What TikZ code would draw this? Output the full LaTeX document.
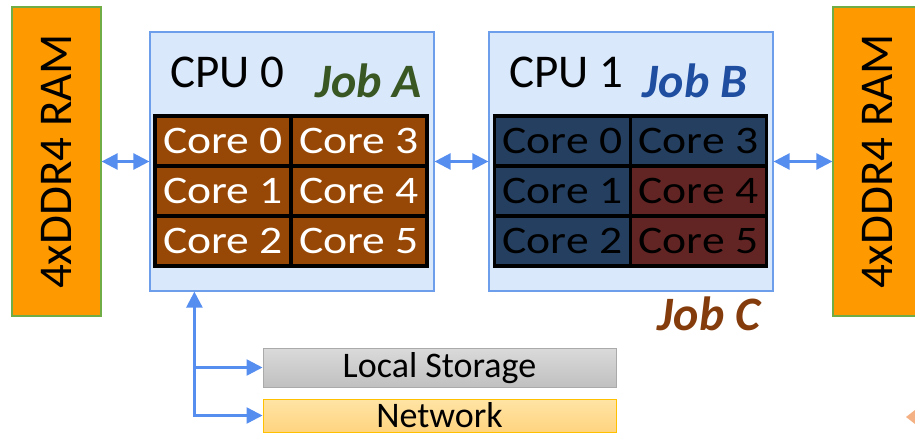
\documentclass[tikz,border=0pt]{standalone}
\usepackage{fontspec}
\setmainfont{Carlito}
\newfontfamily\corefont[FakeStretch=1.17]{Carlito}
\usepackage{tikz}
\usetikzlibrary{arrows.meta}
\definecolor{ramorange}{RGB}{255,153,0}
\definecolor{ramgreen}{RGB}{112,173,71}
\definecolor{cpufill}{RGB}{218,232,252}
\definecolor{cpuline}{RGB}{109,158,235}
\definecolor{corebrown}{RGB}{151,72,6}
\definecolor{coreblue}{RGB}{36,63,96}
\definecolor{corered}{RGB}{99,37,35}
\definecolor{joba}{RGB}{56,87,35}
\definecolor{jobb}{RGB}{31,78,160}
\definecolor{jobc}{RGB}{132,60,12}
\definecolor{linkblue}{RGB}{86,142,240}
\definecolor{bitorange}{RGB}{244,177,131}

\begin{document}
\begin{tikzpicture}[x=1pt,y=-1pt,
  ram/.style={draw=ramgreen,line width=1.2pt,fill=ramorange,minimum width=89,minimum height=309,inner sep=0pt,font=\fontsize{47}{50}\selectfont},
  cpu/.style={draw=cpuline,line width=1.2pt,fill=cpufill,minimum width=284,minimum height=259,inner sep=0pt},
  core/.style={draw=black,line width=3.5pt,minimum width=136,minimum height=50,inner sep=0pt,font=\corefont\fontsize{39}{40}\selectfont},
  title/.style={anchor=base,inner sep=0pt,font=\fontsize{47}{50}\selectfont},
  job/.style={anchor=base,inner sep=0pt,font=\fontsize{48}{50}\selectfont\bfseries\itshape},
  link/.style={draw=linkblue,line width=2.5pt},
  both/.style={link,{Triangle[length=16pt,width=16pt]}-{Triangle[length=16pt,width=16pt]}},
  single/.style={link,-{Triangle[length=16pt,width=16pt]}},
  dev/.style={line width=1pt,minimum width=353,inner sep=0pt,text depth=0pt,font=\fontsize{36}{40}\selectfont}]
\useasboundingbox (0,0) rectangle (915,434);
\clip (0,0) rectangle (915,434);

\draw (56.5,161.5) node[ram] (ramL) {\rotatebox{90}{4xDDR4 RAM}};
\draw (877.5,161.5) node[ram] (ramR) {\rotatebox{90}{4xDDR4 RAM}};

\draw (292,161.5) node[cpu] (cpu0) {};
\draw (631,161.5) node[cpu] (cpu1) {};
\draw (227,87) node[title] (t0) {CPU 0};
\draw (566,87) node[title] (t1) {CPU 1};
\draw (368.5,97) node[job,text=joba] (jA) {Job A};
\draw (695,97) node[job,text=jobb] (jB) {Job B};
\draw (709,330) node[job,text=jobc] (jC) {Job C};

\draw (223,141) node[core,fill=corebrown,text=white] (c00) {Core 0};
\draw (223,191) node[core,fill=corebrown,text=white] (c01) {Core 1};
\draw (223,241) node[core,fill=corebrown,text=white] (c02) {Core 2};
\draw (359,141) node[core,fill=corebrown,text=white] (c03) {Core 3};
\draw (359,191) node[core,fill=corebrown,text=white] (c04) {Core 4};
\draw (359,241) node[core,fill=corebrown,text=white] (c05) {Core 5};

\draw (562.5,141) node[core,fill=coreblue] (c10) {Core 0};
\draw (562.5,191) node[core,fill=coreblue] (c11) {Core 1};
\draw (562.5,241) node[core,fill=coreblue] (c12) {Core 2};
\draw (698.5,141) node[core,fill=coreblue] (c13) {Core 3};
\draw (698.5,191) node[core,fill=corered] (c14) {Core 4};
\draw (698.5,241) node[core,fill=corered] (c15) {Core 5};

\draw (439.5,367.5) node[dev,draw={rgb,255:red,170;green,170;blue,170},top color={rgb,255:red,218;green,218;blue,218},bottom color={rgb,255:red,192;green,192;blue,192},minimum height=39,text height=19pt] (store) {Local Storage};
\draw (439.5,415.5) node[dev,draw={rgb,255:red,255;green,192;blue,0},top color={rgb,255:red,255;green,228;blue,165},bottom color={rgb,255:red,255;green,212;blue,128},minimum height=33,text height=23pt] (net) {Network};

\draw[both] (ramL) -- (cpu0);
\draw[both] (cpu0) -- (cpu1);
\draw[both] (cpu1) -- (ramR);

\path (cpu0.south west) ++(45,0) coordinate (bus);
\draw[both] (net) -| (bus);
\draw[single] (bus |- store) -- (store);

\fill[bitorange] (906,417) -- (915,410) -- (915,424) -- cycle;

\end{tikzpicture}
\end{document}
